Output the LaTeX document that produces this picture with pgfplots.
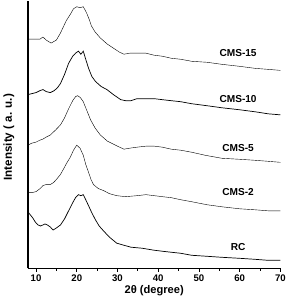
\documentclass[border=0pt]{standalone}
\usepackage{pgfplots}
\pgfplotsset{compat=1.18}
\usepackage{fontspec}
\setmainfont{Liberation Sans}
\begin{document}
\begin{tikzpicture}
\begin{axis}[
  scale only axis, width=250pt, height=265pt,
  xmin=8, xmax=70, ymin=0, ymax=265,
  axis x line=bottom, axis y line=left,
  axis line style={-, line width=1.3pt},
  xtick={10,20,...,70}, minor xtick={15,25,...,65},
  ytick=\empty,
  tick align=outside,
  major tick length=3.5pt, minor tick length=2.5pt,
  every tick/.style={black, line width=0.9pt},
  tick label style={font=\fontsize{9.5}{10}\selectfont\bfseries},
  xticklabel style={yshift=1pt},
  /pgf/number format/assume math mode=true,
  xlabel={2θ (degree)},
  xlabel style={font=\fontsize{11}{12}\selectfont\bfseries, yshift=3pt},
  ylabel={Intensity ( a. u.)},
  ylabel style={font=\fontsize{11.5}{12}\selectfont\bfseries, at={(rel axis cs:0,0.49)}, anchor=south, yshift=10pt},
  cycle list={{black, line width=0.7pt, no markers}},
]
% CMS-15
\addplot coordinates {(8,227) (9,227) (10,227) (11,227) (11.7,229) (12.5,226) (13.7,223) (15,226) (16,233) (17.4,245) (18.5,252) (19.2,257) (20,259) (20.8,258) (21.6,259) (22.4,253) (23,247) (23.6,240) (24.5,234) (25.8,228) (27.5,222) (29,218) (30.5,214) (31.6,212) (33,213) (34.8,213) (37,213) (39,211) (41,210) (43.2,208) (45.5,207) (48.2,205) (52,204) (55.6,202) (60,200) (63.8,198) (67,197) (70,196)};
% CMS-10
\addplot coordinates {(8,172) (9,173) (10,174) (11,176) (11.7,177) (12.5,175) (13.5,174) (14.5,176) (15.3,179) (16,183) (17,192) (18,203) (19,210) (19.7,213) (20.4,215) (21,212) (21.6,215) (22.2,207) (22.9,198) (23.7,190) (24.6,185) (26,180) (27.4,177) (29,172) (30.8,167) (32,166) (33.3,166) (34.8,168) (37,168) (39,168) (41,167) (43.2,166) (45.5,165) (48.2,163) (52,161) (55.6,159) (60,157) (63.8,155) (67,153) (70,152)};
% CMS-5
\addplot coordinates {(8,122) (9,124) (10,125) (11,127) (11.7,128) (12.5,130) (13.5,132) (14.8,137) (16,142) (17,149) (18,158) (19,166) (19.7,170) (20.2,171) (20.9,169) (21.6,165) (22.5,156) (23.4,147) (24.5,139) (25.8,132) (27.5,126) (29,123) (30.5,120) (31.6,118) (33,119) (34.8,120) (37,121) (39,121) (41,120) (43.2,118) (45.5,117) (48.2,115) (51.5,112) (55.6,109) (60,108) (63.8,107) (67,106) (70,105)};
% CMS-2
\addplot coordinates {(8,75) (9,75) (10,76) (11,79) (11.7,82) (12.5,83) (13.5,83) (14.3,85) (15,88) (16,93) (16.7,98) (17.5,104) (18.4,110) (19.2,117) (20,122) (20.8,119) (21.6,112) (22.2,103) (22.9,95) (23.5,88) (24.1,83) (25.3,79) (26.6,77) (28,74) (29.8,72) (32,71) (34.8,72) (37,73) (39,72) (41,71) (43.2,70) (45.5,68) (48.2,66) (52,63) (55.6,61) (60,59) (63.8,58) (67,57) (70,57)};
% RC
\addplot coordinates {(8,56) (8.6,53) (9.2,50) (9.8,46) (10.5,43) (11.1,42) (11.7,43) (12.2,44) (12.8,43) (13.5,41) (14.2,38) (15,40) (16,43) (17,49) (18,57) (19,65) (19.7,70) (20.4,73) (21,72) (21.6,73) (22.2,68) (22.9,62) (23.7,55) (24.6,48) (25.5,42) (26.6,37) (28,31) (29.8,25) (31.5,23) (33.3,21) (36,20) (39,18) (41,17) (43.2,16) (45.5,15) (48.2,13) (52,12) (55.6,11) (60,10) (63.8,9) (67,8) (70,8)};
\begin{scope}[every node/.style={font=\fontsize{10}{11}\selectfont\bfseries}]
\node at (axis cs:59.6,213) {CMS-15};
\node at (axis cs:59.6,168) {CMS-10};
\node at (axis cs:59.6,119) {CMS-5};
\node at (axis cs:59.6,76) {CMS-2};
\node at (axis cs:59.6,21) {RC};
\end{scope}
\end{axis}
\end{tikzpicture}
\end{document}
